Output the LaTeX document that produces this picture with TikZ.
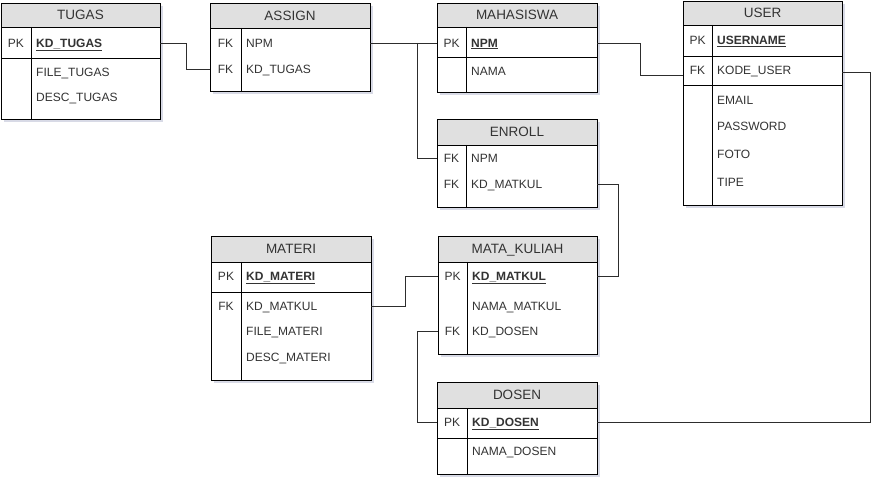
\documentclass[tikz,border=0pt]{standalone}
\usepackage{fontspec}
\setmainfont{Liberation Sans}
\usetikzlibrary{positioning}
\definecolor{erHead}{RGB}{224,224,224}
\definecolor{erText}{RGB}{51,51,51}
\definecolor{erLine}{RGB}{45,45,45}
\definecolor{erShadow}{RGB}{216,218,230}

\tikzset{
  tblhead/.style={font=\fontsize{13.5}{15}\selectfont, text=erText, inner sep=0pt,
    text height=9.7pt, text depth=0pt},
  keylbl/.style={font=\fontsize{12}{14}\selectfont, text=erText, inner sep=0pt,
    text height=8.6pt, text depth=0pt},
  fieldlbl/.style={keylbl, anchor=west},
  relline/.style={draw=erLine, line width=0.8pt},
  tblline/.style={draw=black, line width=0.8pt},
}

% name, x0, y0, x1, y1, header bottom, divider, title
\newcommand{\ertable}[8]{%
  \fill[erShadow] ({#2+3},{#3+3}) rectangle ({#4+3},{#5+3});
  \fill[white] (#2,#3) rectangle (#4,#5);
  \fill[erHead] (#2,#3) rectangle (#4,#6);
  \draw[tblline] (#2,#3) rectangle (#4,#5);
  \draw[tblline] (#2,#6) -- (#4,#6);
  \draw[tblline] (#7,#6) -- (#7,#5);
  \node[tblhead] (#1) at ({(#2+#4)/2},{(#3+#6)/2}) {#8};
  \coordinate (#1-w) at (#2,#3);
  \coordinate (#1-e) at (#4,#3);
  \coordinate (#1-k) at ({(#2+#7)/2},#3);
  \coordinate (#1-f) at ({#7+5},#3);
}
% name, table, y, key, field
\newcommand{\errow}[5]{%
  \node[keylbl] at (#2-k |- 0,#3) {#4};
  \node[fieldlbl] (#1) at (#2-f |- 0,#3) {#5};
}
\newcommand{\pkfield}[1]{\underline{\textbf{#1}}}

\begin{document}
\begin{tikzpicture}[x=1pt,y=-1pt]
\useasboundingbox (0,0) rectangle (884,486);

% tables
\ertable{tugas}{1}{3}{160}{119}{27}{31}{TUGAS}
\draw[tblline] (1,58) -- (160,58);
\errow{tugas-kd}{tugas}{43}{PK}{\pkfield{KD\_TUGAS}}
\errow{tugas-file}{tugas}{72}{}{FILE\_TUGAS}
\errow{tugas-desc}{tugas}{97}{}{DESC\_TUGAS}

\ertable{assign}{210}{3}{370}{91}{28}{241}{ASSIGN}
\errow{assign-npm}{assign}{43}{FK}{NPM}
\errow{assign-kt}{assign}{69}{FK}{KD\_TUGAS}

\ertable{mhs}{437}{3}{597}{92}{27}{466}{MAHASISWA}
\draw[tblline] (437,57) -- (597,57);
\errow{mhs-npm}{mhs}{43}{PK}{\pkfield{NPM}}
\errow{mhs-nama}{mhs}{71}{}{NAMA}

\ertable{enroll}{437}{119}{597}{207}{145}{466}{ENROLL}
\errow{enroll-npm}{enroll}{158}{FK}{NPM}
\errow{enroll-kdm}{enroll}{184}{FK}{KD\_MATKUL}

\ertable{user}{683}{1}{842}{205}{25}{712}{USER}
\draw[tblline] (683,56) -- (842,56);
\draw[tblline] (683,85) -- (842,85);
\errow{user-un}{user}{40}{PK}{\pkfield{USERNAME}}
\errow{user-kode}{user}{70}{FK}{KODE\_USER}
\errow{user-email}{user}{100}{}{EMAIL}
\errow{user-pw}{user}{126}{}{PASSWORD}
\errow{user-foto}{user}{154}{}{FOTO}
\errow{user-tipe}{user}{182}{}{TIPE}
\coordinate (user-in) at (683,75);
\coordinate (user-out) at (842,72);

\ertable{materi}{211}{236}{371}{380}{262}{241}{MATERI}
\draw[tblline] (211,292) -- (371,292);
\errow{materi-kd}{materi}{276}{PK}{\pkfield{KD\_MATERI}}
\errow{materi-kdm}{materi}{306}{FK}{KD\_MATKUL}
\errow{materi-file}{materi}{331}{}{FILE\_MATERI}
\errow{materi-desc}{materi}{357}{}{DESC\_MATERI}

\ertable{mk}{438}{236}{597}{354}{262}{467}{MATA\_KULIAH}
\errow{mk-kdm}{mk}{276}{PK}{\pkfield{KD\_MATKUL}}
\errow{mk-nama}{mk}{306}{}{NAMA\_MATKUL}
\errow{mk-kdd}{mk}{331}{FK}{KD\_DOSEN}

\ertable{dosen}{437}{382}{597}{474}{408}{467}{DOSEN}
\draw[tblline] (437,438) -- (597,438);
\errow{dosen-kd}{dosen}{422}{PK}{\pkfield{KD\_DOSEN}}
\errow{dosen-nama}{dosen}{451}{}{NAMA\_DOSEN}

% relations
\draw[relline] (tugas-e |- tugas-kd) -- ++(26,0) |- (assign-w |- assign-kt);
\draw[relline] (assign-e |- assign-npm) -- (mhs-w |- mhs-npm);
\path (assign-e |- assign-npm) ++(47,0) coordinate (npm-split);
\draw[relline] (npm-split) |- (enroll-w |- enroll-npm);
\draw[relline] (mhs-e |- mhs-npm) -- ++(43,0) |- (user-in);
\draw[relline] (enroll-e |- enroll-kdm) -- ++(21,0) |- (mk-e |- mk-kdm);
\draw[relline] (materi-e |- materi-kdm) -- ++(34,0) |- (mk-w |- mk-kdm);
\draw[relline] (mk-w |- mk-kdd) -- ++(-21,0) |- (dosen-w |- dosen-kd);
\draw[relline] (dosen-e |- dosen-kd) -- ++(273,0) |- (user-out);
\end{tikzpicture}
\end{document}
